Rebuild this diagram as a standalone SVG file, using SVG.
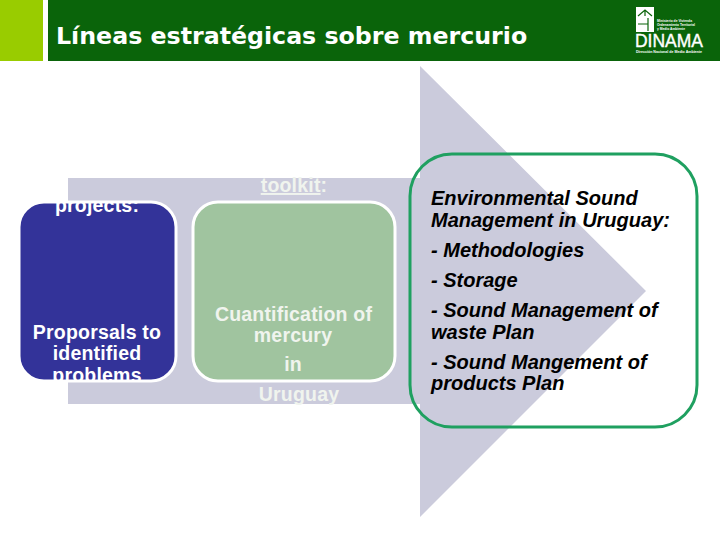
<svg xmlns="http://www.w3.org/2000/svg" width="720" height="540" viewBox="0 0 720 540">
<defs>
<style>
text{font-family:"Liberation Sans",Arial,sans-serif}
.title{font-family:"DejaVu Sans",Verdana,sans-serif;font-weight:700;font-size:23.7px;fill:#fff}
.w{font-weight:700;font-size:19.5px;letter-spacing:.2px;fill:#fff;text-anchor:middle}
.g{font-weight:700;font-size:19.5px;letter-spacing:.2px;fill:#f0f4ee;text-anchor:middle}
.b{font-weight:700;font-style:italic;font-size:20px;fill:#000}
.logo{fill:#fff;font-weight:700}
</style>
<clipPath id="cb"><rect x="20" y="203" width="155" height="177" rx="24"/></clipPath>
</defs>
<rect width="720" height="540" fill="#fff"/>
<g id="header">
<rect x="0" y="0" width="43" height="61" fill="#99cc00"/>
<rect x="48" y="0" width="672" height="61" fill="#0a640a"/>
<text class="title" x="56" y="44">Líneas estratégicas sobre mercurio</text>
</g>
<g id="logo">
<rect x="636" y="7" width="18" height="25" fill="#fff"/>
<path d="M638 16L645 10L652 16M645 10V16M638 24H648M648 18V31" fill="none" stroke="#0a640a" stroke-width="1.2"/>
<text class="logo" x="657" y="21.5" font-size="3.6" textLength="35" lengthAdjust="spacingAndGlyphs">Ministerio de Vivienda</text>
<text class="logo" x="657" y="25.5" font-size="3.6" textLength="38" lengthAdjust="spacingAndGlyphs">Ordenamiento Territorial</text>
<text class="logo" x="657" y="29.5" font-size="3.6" textLength="28" lengthAdjust="spacingAndGlyphs">y Medio Ambiente</text>
<text x="635" y="47" font-size="19" fill="#fff" stroke="#fff" stroke-width=".4" textLength="68" lengthAdjust="spacingAndGlyphs">DINAMA</text>
<text class="logo" x="636" y="52.5" font-size="3.6" textLength="66" lengthAdjust="spacingAndGlyphs">Dirección Nacional de Medio Ambiente</text>
</g>
<g id="backdrop">
<path d="M68 178H420V66L646 291L420 517V404H68Z" fill="#cbcbdc"/>
</g>
<g id="node-projects">
<rect x="19" y="202" width="157" height="179" rx="25" fill="#333399" stroke="#fff" stroke-width="3"/>
<g clip-path="url(#cb)">
<text class="w" x="97" y="212">projects:</text>
<text class="w" x="97" y="339">Proporsals to</text>
<text class="w" x="97" y="360">identified</text>
<text class="w" x="97" y="382">problems</text>
</g>
</g>
<g id="node-toolkit">
<rect x="193" y="202" width="202" height="179" rx="25" fill="#a0c49f" stroke="#fff" stroke-width="3"/>
<text class="g" x="294" y="192"><tspan text-decoration="underline">toolkit</tspan>:</text>
<text class="g" x="293.5" y="321">Cuantification of</text>
<text class="g" x="293" y="342">mercury</text>
<text class="g" x="293" y="371">in</text>
<text class="g" x="299" y="401">Uruguay</text>
</g>
<g id="node-environmental">
<rect x="410" y="154" width="287" height="273" rx="42" fill="none" stroke="#1fa060" stroke-width="3"/>
<text class="b" x="431" y="205">Environmental Sound</text>
<text class="b" x="431" y="227">Management in Uruguay:</text>
<text class="b" x="431" y="257">- Methodologies</text>
<text class="b" x="431" y="287">- Storage</text>
<text class="b" x="431" y="317">- Sound Management of</text>
<text class="b" x="431" y="339">waste Plan</text>
<text class="b" x="431" y="369">- Sound Mangement of</text>
<text class="b" x="431" y="390">products Plan</text>
</g>
<g id="connectors"></g>
</svg>
